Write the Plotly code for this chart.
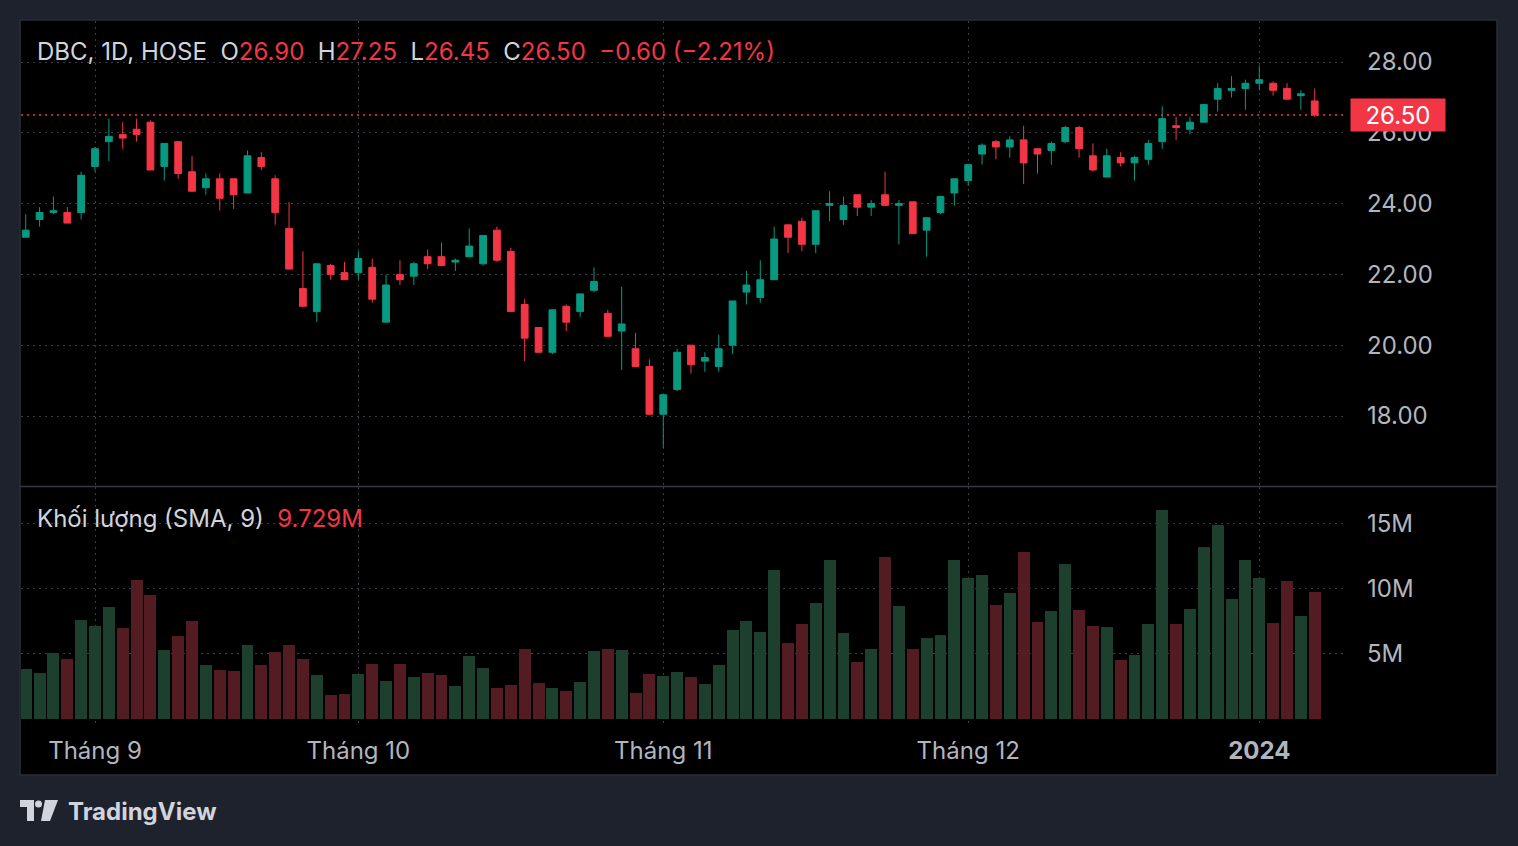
import plotly.graph_objects as go

# ---------------- data ----------------
opens = [23.05, 23.55, 23.75, 23.75, 23.75, 25.05, 25.75, 25.95, 26.10, 26.30,
         25.05, 25.75, 24.90, 24.45, 24.70, 24.70, 24.30, 25.30, 24.70, 23.30,
         21.60, 20.95, 22.25, 22.05, 22.05, 22.20, 20.65, 22.00, 21.95, 22.50,
         22.50, 22.35, 22.50, 22.30, 23.25, 22.65, 21.15, 20.50, 19.80, 21.10,
         20.95, 21.55, 20.90, 20.40, 19.90, 19.40, 18.05, 18.75, 20.00, 19.55,
         19.40, 20.00, 21.50, 21.35, 21.85, 23.40, 23.50, 22.85, 23.95, 23.55,
         24.25, 23.90, 24.25, 23.95, 24.05, 23.25, 23.75, 24.30, 24.65, 25.40,
         25.75, 25.60, 25.80, 25.55, 25.50, 25.75, 26.15, 25.35, 24.75, 25.30,
         25.15, 25.25, 25.75, 26.20, 26.10, 26.30, 26.95, 27.20, 27.25, 27.40,
         27.40, 27.25, 27.05, 26.90]
highs = [23.70, 23.90, 24.20, 23.90, 24.90, 25.60, 26.40, 26.30, 26.40, 26.35,
         25.70, 25.75, 25.35, 24.85, 24.85, 24.70, 25.50, 25.45, 24.80, 24.05,
         22.65, 22.30, 22.30, 22.35, 22.65, 22.45, 22.00, 22.40, 22.35, 22.70,
         22.90, 22.45, 23.30, 23.10, 23.35, 22.75, 21.30, 20.50, 21.00, 21.15,
         21.45, 22.20, 21.00, 21.65, 20.35, 19.60, 18.60, 19.90, 20.00, 19.80,
         20.30, 21.25, 22.10, 22.40, 23.35, 23.40, 23.60, 23.80, 24.35, 24.20,
         24.25, 24.10, 24.90, 24.10, 24.05, 23.60, 24.20, 24.70, 25.10, 25.70,
         25.80, 25.90, 26.20, 25.55, 25.75, 26.20, 26.20, 25.70, 25.55, 25.45,
         25.35, 25.80, 26.75, 26.45, 26.45, 26.80, 27.40, 27.60, 27.50, 27.90,
         27.45, 27.40, 27.20, 27.25]
lows = [23.05, 23.35, 23.70, 23.45, 23.55, 24.90, 25.20, 25.55, 25.75, 24.95,
        24.65, 24.70, 24.35, 24.25, 23.80, 23.85, 24.30, 24.95, 23.40, 22.15,
        21.10, 20.65, 21.85, 21.85, 21.85, 21.20, 20.65, 21.70, 21.70, 22.15,
        22.25, 22.10, 22.50, 22.25, 22.35, 20.95, 19.55, 19.80, 19.75, 20.40,
        20.80, 21.50, 20.25, 19.30, 19.40, 18.05, 17.10, 18.70, 19.20, 19.25,
        19.25, 19.75, 21.15, 21.20, 21.85, 22.60, 22.65, 22.60, 23.50, 23.40,
        23.65, 23.65, 23.95, 22.85, 23.15, 22.50, 23.70, 23.95, 24.50, 25.10,
        25.25, 25.30, 24.55, 24.85, 25.10, 25.70, 25.30, 24.90, 24.75, 25.05,
        24.65, 25.10, 25.55, 25.80, 25.95, 26.30, 26.60, 27.00, 26.65, 27.20,
        27.05, 26.95, 26.65, 26.45]
closes = [23.25, 23.75, 23.80, 23.45, 24.80, 25.55, 25.90, 25.85, 25.95, 24.95,
          25.70, 24.85, 24.35, 24.70, 24.15, 24.25, 25.35, 25.05, 23.75, 22.15,
          21.10, 22.30, 22.00, 21.85, 22.45, 21.30, 21.70, 21.85, 22.30, 22.30,
          22.25, 22.40, 22.80, 23.10, 22.40, 20.95, 20.20, 19.80, 21.00, 20.65,
          21.45, 21.80, 20.25, 20.60, 19.40, 18.05, 18.60, 19.80, 19.45, 19.65,
          19.90, 21.25, 21.70, 21.85, 23.00, 23.05, 22.85, 23.80, 24.00, 23.95,
          23.90, 24.00, 23.95, 24.00, 23.15, 23.60, 24.20, 24.70, 25.10, 25.65,
          25.60, 25.80, 25.15, 25.40, 25.70, 26.15, 25.55, 24.95, 25.35, 25.15,
          25.30, 25.70, 26.40, 26.15, 26.30, 26.80, 27.25, 27.25, 27.40, 27.50,
          27.20, 26.95, 27.10, 26.50]
volumes_m = [3.83, 3.52, 5.05, 4.59, 7.58, 7.12, 8.58, 6.97, 10.64, 9.49,
             5.28, 6.36, 7.50, 4.13, 3.75, 3.68, 5.67, 4.13, 5.13, 5.67,
             4.59, 3.37, 1.84, 1.91, 3.45, 4.21, 2.91, 4.21, 3.22, 3.52,
             3.37, 2.53, 4.82, 3.90, 2.37, 2.60, 5.36, 2.76, 2.37, 2.14,
             2.83, 5.20, 5.36, 5.28, 1.99, 3.45, 3.29, 3.60, 3.22, 2.68,
             4.13, 6.81, 7.50, 6.66, 11.41, 5.82, 7.27, 8.88, 12.17, 6.58,
             4.36, 5.36, 12.40, 8.65, 5.36, 6.20, 6.43, 12.17, 10.80, 11.03,
             8.73, 9.65, 12.79, 7.43, 8.27, 11.87, 8.35, 7.12, 7.04, 4.52,
             4.90, 7.27, 16.00, 7.27, 8.42, 13.17, 14.85, 9.19, 12.17, 10.80,
             7.35, 10.57, 7.89, 9.729]

time_tick_idx = [5, 24, 46, 68, 89]
time_tick_labels = ["Tháng 9", "Tháng 10", "Tháng 11", "Tháng 12", "<b>2024</b>"]
price_ticks = [18, 20, 22, 24, 26, 28]
vol_ticks = [5e6, 10e6, 15e6]
vol_tick_labels = ["5M", "10M", "15M"]
last_price_label = "26.50"
last_price = 26.50

# ---------------- styling ----------------
W, H = 1518, 846
def px(x):
    return x / W
def py(y):
    return 1 - y / H

UP = "#089981"
DN = "#f23645"
VUP = "#1c3f2e"
VDN = "#521c22"
OUTER = "#1e222d"
BORDER = "#2a2e39"
GRID = "#3a3d45"
TXT = "#d1d4dc"
AXT = "#b2b5be"
FONT = "Inter, Roboto, sans-serif"
NB = "\u00a0"

idx = list(range(len(opens)))
volumes = [v * 1e6 for v in volumes_m]
vol_colors = [VUP if c >= o else VDN for o, c in zip(opens, closes)]

fig = go.Figure()
fig.add_trace(go.Candlestick(
    x=idx, open=opens, high=highs, low=lows, close=closes,
    increasing=dict(line=dict(color=UP, width=1), fillcolor=UP),
    decreasing=dict(line=dict(color=DN, width=1), fillcolor=DN),
    whiskerwidth=0, xaxis="x", yaxis="y", hoverinfo="skip", showlegend=False))
fig.add_trace(go.Bar(
    x=idx, y=volumes, marker=dict(color=vol_colors, line=dict(width=0)),
    width=0.86, xaxis="x", yaxis="y2", hoverinfo="skip", showlegend=False))

grid_common = dict(showgrid=True, gridcolor=GRID, griddash="2px,4px", gridwidth=1,
                   zeroline=False, showline=False, ticks="")

fig.update_layout(
    width=W, height=H, margin=dict(l=0, r=0, t=0, b=0),
    paper_bgcolor=OUTER, plot_bgcolor="rgba(0,0,0,0)",
    font=dict(family=FONT, size=24, color=AXT),
    showlegend=False, bargap=0,
    xaxis=dict(domain=[px(21), px(1347)], range=[-0.34, 95.33], anchor="y2",
               tickvals=time_tick_idx, ticktext=time_tick_labels,
               tickfont=dict(size=24, color=AXT), ticklabelstandoff=10,
               rangeslider=dict(visible=False), **grid_common),
    yaxis=dict(domain=[py(486), py(21)], range=[16.023, 29.158], side="right", anchor="x",
               tickvals=price_ticks, tickformat=".2f", ticklabelstandoff=19,
               tickfont=dict(size=24, color=AXT), **grid_common),
    yaxis2=dict(domain=[py(724), py(487)], range=[-0.383e6, 17.764e6], side="right", anchor="x",
                tickvals=vol_ticks, ticktext=vol_tick_labels, ticklabelstandoff=19,
                tickfont=dict(size=24, color=AXT), **grid_common),
)

shapes = [
    # chart box
    dict(type="rect", xref="paper", yref="paper", x0=px(20), x1=px(1497), y0=py(775), y1=py(20),
         fillcolor="#000000", line=dict(color=BORDER, width=1.5), layer="below"),
    # pane separator
    dict(type="line", xref="paper", yref="paper", x0=px(20), x1=px(1497), y0=py(486.5), y1=py(486.5),
         line=dict(color="#363a45", width=1.5)),
    # last price line
    dict(type="line", xref="paper", yref="y", x0=px(21), x1=px(1347), y0=last_price, y1=last_price,
         line=dict(color=DN, width=1.5, dash="2px,4px")),
    # TradingView logo glyph
    dict(type="path", xref="paper", yref="paper",
         path=f"M {px(20)},{py(800)} L {px(34)},{py(800)} L {px(34)},{py(821)} L {px(27)},{py(821)} "
              f"L {px(27)},{py(807)} L {px(20)},{py(807)} Z",
         fillcolor=TXT, line=dict(width=0)),
    dict(type="circle", xref="paper", yref="paper", x0=px(35), x1=px(42), y0=py(807.5), y1=py(800.5),
         fillcolor=TXT, line=dict(width=0)),
    dict(type="path", xref="paper", yref="paper",
         path=f"M {px(45)},{py(800)} L {px(58)},{py(800)} L {px(50)},{py(821)} L {px(41)},{py(821)} Z",
         fillcolor=TXT, line=dict(width=0)),
]

red = lambda s: f"<span style='color:{DN}'>{s}</span>"
header = (f"DBC, 1D, HOSE{NB}{NB}O{red('26.90')}{NB}{NB}H{red('27.25')}{NB}{NB}"
          f"L{red('26.45')}{NB}{NB}C{red('26.50')}{NB}{NB}{red('−0.60 (−2.21%)')}")
vol_header = f"Khối lượng (SMA, 9){NB}{NB}{red('9.729M')}"

annotations = [
    dict(xref="paper", yref="paper", x=px(35), y=py(52), xanchor="left", yanchor="middle",
         text=header, showarrow=False, font=dict(size=24, color=TXT, family=FONT)),
    dict(xref="paper", yref="paper", x=px(35), y=py(518), xanchor="left", yanchor="middle",
         text=vol_header, showarrow=False, font=dict(size=24, color=TXT, family=FONT)),
    dict(xref="paper", yref="y", x=px(1350), y=last_price, xanchor="left", yanchor="middle",
         text=last_price_label, showarrow=False, bgcolor=DN, width=88, height=26, borderpad=3,
         font=dict(size=24, color="#ffffff", family=FONT)),
    dict(xref="paper", yref="paper", x=px(66), y=py(811), xanchor="left", yanchor="middle",
         text="<b>TradingView</b>", showarrow=False, font=dict(size=24, color=TXT, family=FONT)),
]

fig.update_layout(shapes=shapes, annotations=annotations)
fig.write_html("out.html")
